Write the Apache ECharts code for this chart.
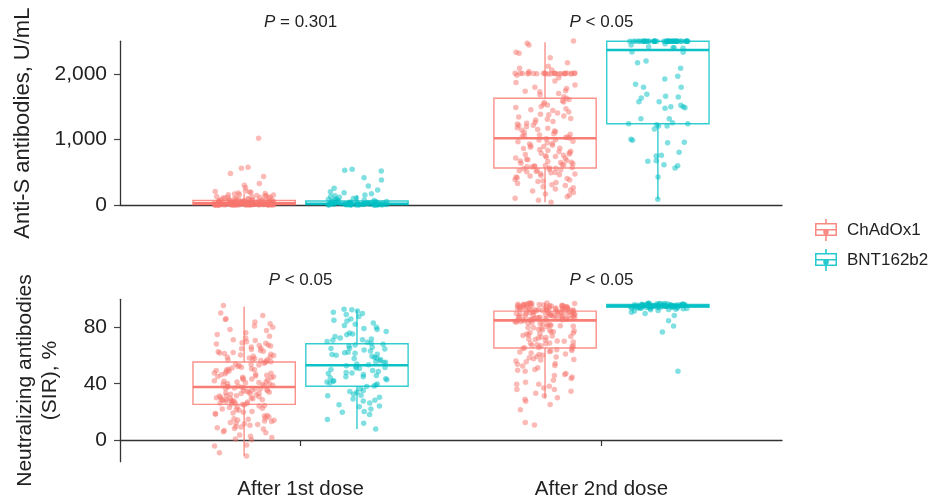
<!DOCTYPE html>
<html>
<head>
<meta charset="utf-8">
<script src="https://cdn.jsdelivr.net/npm/echarts@6/dist/echarts.min.js"></script>
<style>html,body{margin:0;padding:0;background:#fff}#c{width:938px;height:501px}</style>
</head>
<body>
<div id="c"></div>
<script>
// ---------- data ----------
const categories = ['After 1st dose', 'After 2nd dose'];
const vaccines = ['ChAdOx1', 'BNT162b2'];
const antiSTicks = [0, 1000, 2000];
const nabTicks = [0, 40, 80];
const antiSPValues = ['= 0.301', '< 0.05'];
const nabPValues = ['< 0.05', '< 0.05'];

// Box statistics [min, Q1, median, Q3, max] per dose
const antiSBoxChAdOx1 = [[0, 8, 25, 68, 170], [41, 565, 1018, 1629, 2484]];
const antiSBoxBNT = [[0, 6, 20, 62, 150], [87, 1241, 2366, 2500, 2500]];
const nabBoxChAdOx1 = [[-11.1, 25.3, 37.7, 55.4, 94.9], [29.5, 65.4, 85.0, 91.6, 97.5]];
const nabBoxBNT = [[7.8, 38.2, 53.1, 68.4, 92.5], [92.6, 94.4, 95.4, 96.3, 97.4]];

// Individual values (Anti-S antibodies, U/mL)
const antiSChAdOx1Dose1 = [1020,575,560,482,435,330,302,262,215,208,200,196,183,176,168,161,155,151,146,140,137,131,127,122,118,114,111,106,103,99,96,93,90,88,85,82,80,77,75,73,70,68,66,64,62,60,59,57,55,53,52,50,49,47,46,44,43,42,40,39,38,37,36,35,34,33,32,31,30,29,28,28,27,26,25,25,24,23,22,22,21,20,20,19,18,18,17,16,16,15,15,14,14,13,13,12,12,11,11,10,10,10,9,9,9,8,8,8,7,7,7,6,6,6,5,5,5,5,4,4,4,4,3,3,3,3,2,2,2,2,2,1,1,1,1,1,0,0,0,0,0,0,0,0];
const antiSBNTDose1 = [545,529,519,417,382,290,254,229,203,188,172,153,140,128,117,105,98,92,86,80,75,70,66,62,58,55,52,49,46,44,41,39,37,35,33,31,29,28,26,25,23,22,21,20,19,18,17,16,15,14,13,12,11,10,10,9,9,8,8,7,7,6,6,5,5,4,4,3,3,3,2,2,2,1,1,1,0,0,0,0];
const antiSChAdOx1Dose2 = [2504,2468,2443,2331,2316,2247,2173,2117,2086,2061,2038,
  2012,2008,2005,2010,2003,2015,2000,2009,2006,2011,2002,2013,2007,2004,2010,2001,2014,2008,2006,2003,2011,2009,2005,2012,2000,
  1981,1942,1893,1872,1832,1797,1778,1746,1735,1730,1704,1683,1652,1629,
  1612,1587,1574,1563,1538,1527,1502,1488,1471,1453,1442,1418,1403,1386,1377,1358,1342,1321,1308,1297,1276,1262,1248,1237,1219,1213,1196,1178,1171,1153,1142,1128,1117,1106,1088,1081,1068,1062,1047,1039,1031,1022,
  1012,998,991,974,967,951,938,932,913,906,893,882,868,861,847,833,822,812,798,791,778,771,758,752,739,731,718,712,697,691,678,671,666,653,647,636,631,618,611,604,597,591,583,579,571,566,
  561,553,547,536,531,524,513,507,496,491,478,472,461,452,441,428,417,406,391,383,366,357,342,327,311,296,278,263,244,229,212,191,168,152,127,102,74,41];
const antiSBNTDose2 = [2500,2500,2500,2500,2500,2500,2500,2500,2500,2500,2500,2500,2500,2500,2500,2500,2500,2500,2500,2500,2500,2500,2500,2500,2500,2500,2500,2500,2500,2500,2500,2500,2500,2500,2500,2500,2500,2500,2500,2500,2500,2500,2500,2500,2500,
  2460,2443,2417,2402,2400,2392,2336,2331,2199,2173,2086,1964,1923,1842,1797,1797,1690,1660,1649,1634,1578,1578,1521,1501,1501,1486,1476,1318,1318,1257,1241,1241,1226,1206,1206,1160,1003,988,957,950,804,758,748,676,667,615,600,565,427,87];

// Individual values (Neutralizing antibodies, SIR %)
const nabChAdOx1Dose1 = [95.6,90.2,88.4,86.1,85.7,83.9,82.6,81.0,80.1,77.9,76.3,73.8,72.4,71.2,70.8,69.9,69.1,68.2,67.6,66.8,66.1,65.3,64.4,63.7,63.0,62.2,61.5,60.9,60.1,59.6,59.0,58.3,57.9,57.4,56.9,56.5,56.0,55.7,78.6,74.9,68.7,64.9,61.8,58.8,57.1,67.2,62.7,60.4,
  55.2,54.6,54.1,53.4,52.9,52.2,51.8,51.1,50.6,50.0,49.4,48.9,48.3,47.7,47.1,46.6,46.0,45.5,44.9,44.3,43.8,43.3,42.7,42.2,41.8,41.2,40.7,40.2,39.8,39.3,38.9,38.5,38.1,37.8,53.7,50.3,47.4,45.1,43.0,41.5,39.6,38.3,44.6,40.9,49.7,46.3,
  37.5,37.1,36.6,36.2,35.7,35.3,34.8,34.4,33.9,33.5,33.0,32.6,32.1,31.7,31.2,30.8,30.3,29.9,29.4,29.0,28.6,28.1,27.7,27.3,26.8,26.4,26.0,25.6,25.3,36.9,35.0,33.2,31.5,29.7,28.3,27.0,25.9,34.1,30.1,27.5,32.8,36.4,28.8,
  25.0,24.1,23.2,22.0,21.1,20.3,19.2,18.4,17.5,16.3,15.6,14.8,14.0,13.1,12.4,11.6,10.5,9.7,8.8,7.9,6.8,5.2,3.5,1.8,0.2,-3.5,-4.2,-9.0,-11.3,23.6,21.7,19.8,17.0,15.1,13.6,11.0,8.2,5.9,0.8,24.6,22.6,18.9,14.3,12.0,9.3,2.6];
const nabBNTDose1 = [92.9,92.5,91.6,90.8,89.9,89.2,87.7,86.0,84.6,83.1,81.4,80.2,78.5,77.1,76.0,74.8,73.6,72.5,71.8,70.9,70.1,69.4,68.8,82.2,79.3,75.4,71.2,85.2,
  68.1,67.5,66.8,66.0,65.3,64.6,63.9,63.2,62.4,61.7,61.0,60.2,59.5,58.7,57.9,57.2,56.4,55.6,54.9,54.1,53.5,65.0,62.0,58.3,55.2,60.8,
  52.8,52.1,51.5,50.8,50.1,49.4,48.7,48.0,47.3,46.5,45.8,45.0,44.3,43.5,42.8,42.0,41.3,40.6,39.9,39.1,38.4,51.1,47.7,44.9,41.9,
  38.0,36.5,35.2,33.9,32.6,31.9,30.4,29.1,27.7,26.4,25.0,23.6,22.1,20.3,19.8,18.2,14.6,11.9,7.8,34.4,28.3,24.2,31.5];
const nabChAdOx1Dose2 = [97.6,97.3,97.1,96.9,96.8,96.6,96.4,96.3,96.1,95.9,95.8,95.6,95.5,95.3,95.2,95.0,94.9,94.7,94.6,94.4,94.3,94.1,94.0,93.8,93.7,93.5,93.4,93.2,93.1,92.9,92.8,92.6,92.5,92.3,92.2,92.0,91.9,91.8,97.0,96.0,95.4,94.8,94.2,93.6,93.0,92.4,91.7,95.1,93.3,96.5,
  91.5,91.3,91.2,91.0,90.8,90.7,90.5,90.3,90.2,90.0,89.8,89.6,89.5,89.3,89.1,88.9,88.8,88.6,88.4,88.2,88.0,87.8,87.6,87.4,87.2,87.0,86.8,86.6,86.4,86.2,86.0,85.8,85.6,85.4,85.2,85.1,90.9,89.9,88.5,87.1,86.1,91.1,89.0,87.9,86.7,85.5,90.4,88.1,86.5,85.3,
  84.8,84.3,83.9,83.4,82.8,82.3,81.7,81.2,80.6,80.0,79.3,78.7,78.0,77.4,76.7,76.0,75.3,74.6,73.9,73.2,72.5,71.8,71.1,70.4,69.7,69.0,68.4,67.7,67.0,66.4,65.8,84.0,82.0,79.7,77.0,74.2,71.5,68.8,66.9,83.1,80.9,78.3,75.7,72.9,70.2,67.4,65.6,81.5,76.4,73.5,
  65.0,64.2,63.3,62.5,61.8,61.1,60.2,59.3,59.0,57.8,56.9,55.7,54.3,53.0,52.6,51.4,50.2,48.8,47.2,45.9,43.7,42.5,41.1,39.6,39.6,38.2,37.0,35.9,35.9,34.6,33.2,31.4,30.0,29.0,27.5,25.3,21.5,12.5,10.6,63.7,60.7,58.4,56.2,49.6,46.5,44.8,62.9,57.3,53.8,64.6];
const nabBNTDose2 = [97.3,97.1,97.0,96.9,96.8,96.8,96.7,96.6,96.6,96.5,96.4,96.4,96.3,96.3,96.2,96.1,96.1,96.0,96.0,95.9,95.9,95.8,95.8,95.7,95.7,95.6,95.6,95.5,95.5,95.5,95.4,95.4,95.3,95.3,95.2,95.2,95.1,95.1,95.0,95.0,94.9,94.9,94.8,94.8,94.7,94.7,94.6,94.6,94.5,94.5,94.4,94.3,94.3,94.2,94.1,94.0,93.9,93.8,93.7,93.6,93.5,93.4,93.2,93.0,92.8,92.5,92.1,91.6,90.8,89.9,88.5,84.8,81.0,76.7,48.8,96.2,95.8,95.4,95.0,94.6,96.5,95.6,94.9,95.2,95.9];

// ---------- styling / layout ----------
const COLORS = { ChAdOx1: '#F8766D', BNT162b2: '#00BFC4' };
const DODGE = 0.1875;
const BOX_W = 0.34;
const JITTER = 0.1;
const FONT = '"Liberation Sans", Arial, sans-serif';
const TXT = '#222';

function jitter(i, seed) {
  const s = Math.sin((i + 1) * 12.9898 + seed * 78.233) * 43758.5453;
  return (s - Math.floor(s) - 0.5) * 2 * JITTER;
}

function pointsData(dose1, dose2, vIdx, seed) {
  const off = vIdx === 0 ? -DODGE : DODGE;
  const out = [];
  [dose1, dose2].forEach((arr, d) => {
    arr.forEach((v, i) => out.push([d + 1 + off + jitter(i, seed + d * 7), v]));
  });
  return out;
}
function boxData(stats, vIdx) {
  const off = vIdx === 0 ? -DODGE : DODGE;
  return stats.map((s, d) => [d + 1 + off].concat(s));
}

function boxSeries(name, stats, vIdx, grid) {
  const color = COLORS[name];
  return {
    type: 'custom', name: name, xAxisIndex: grid, yAxisIndex: grid, z: 2,
    data: boxData(stats, vIdx),
    encode: { x: 0, y: [1, 2, 3, 4, 5] },
    renderItem: function (params, api) {
      const x = api.value(0);
      const half = api.size([BOX_W, 0])[0] / 2;
      const p = [1, 2, 3, 4, 5].map(k => api.coord([x, api.value(k)]));
      const cx = p[0][0];
      const ls = { stroke: color, lineWidth: 1.4, opacity: 0.8 };
      return {
        type: 'group', children: [
          { type: 'line', shape: { x1: cx, y1: p[0][1], x2: cx, y2: p[1][1] }, style: ls },
          { type: 'line', shape: { x1: cx, y1: p[3][1], x2: cx, y2: p[4][1] }, style: ls },
          { type: 'rect', shape: { x: cx - half, y: p[3][1], width: 2 * half, height: p[1][1] - p[3][1] }, style: { fill: 'rgba(255,255,255,0)', stroke: color, lineWidth: 1.4, opacity: 0.8 } },
          { type: 'line', shape: { x1: cx - half, y1: p[2][1], x2: cx + half, y2: p[2][1] }, style: { stroke: color, lineWidth: 2.6, opacity: 0.95 } }
        ]
      };
    }
  };
}
function pointSeries(name, d1, d2, vIdx, grid, seed) {
  return {
    type: 'scatter', name: name, xAxisIndex: grid, yAxisIndex: grid, z: 3,
    symbolSize: 5.5, clip: false,
    itemStyle: { color: COLORS[name], opacity: 0.5 },
    emphasis: { disabled: true },
    data: pointsData(d1, d2, vIdx, seed)
  };
}

// legend key: box outline + median + whiskers + dot (boxplot-with-points key)
const ICON = 'path://M10.2,0L11.8,0L11.8,4L22,4L22,17L11.8,17L11.8,22L10.2,22L10.2,17L0,17L0,4L10.2,4Z' +
  'M1.5,5.5L1.5,10L20.5,10L20.5,5.5Z M1.5,11.6L1.5,15.5L20.5,15.5L20.5,11.6Z' +
  'M13.8,13A2.8,2.8,0,1,1,8.2,13A2.8,2.8,0,1,1,13.8,13Z';

const xAxisBase = {
  type: 'value', min: 0.4, max: 2.6,
  splitLine: { show: false },
  axisLine: { show: true, lineStyle: { color: '#333', width: 1.3 } }
};
const yAxisBase = {
  type: 'value',
  splitLine: { show: false },
  axisLine: { show: true, lineStyle: { color: '#333', width: 1.3 } },
  axisTick: { show: true, length: 6, lineStyle: { color: '#444', width: 1.2 } },
  axisLabel: { color: TXT, fontSize: 21, fontFamily: FONT, margin: 13 },
  nameLocation: 'middle', nameRotate: 90,
  nameTextStyle: { color: TXT, fontSize: 22, fontFamily: FONT }
};

const option = {
  animation: false,
  backgroundColor: '#fff',
  grid: [
    { left: 120, right: 156, top: 41.25, height: 163.75 },
    { left: 120, right: 156, top: 299.3, height: 162.4 }
  ],
  xAxis: [
    Object.assign({}, xAxisBase, { gridIndex: 0, axisTick: { show: false }, axisLabel: { show: false } }),
    Object.assign({}, xAxisBase, {
      gridIndex: 1,
      axisTick: { show: true, customValues: [1, 2], length: 6, lineStyle: { color: '#333', width: 1.2 } },
      axisLabel: { customValues: [1, 2], formatter: v => categories[Math.round(v) - 1], color: TXT, fontSize: 20.5, fontFamily: FONT, margin: 17 }
    })
  ],
  yAxis: [
    Object.assign({}, yAxisBase, {
      gridIndex: 0, min: 0, max: 2500, name: 'Anti-S antibodies, U/mL', nameGap: 86,
      axisTick: Object.assign({}, yAxisBase.axisTick, { customValues: antiSTicks }),
      axisLabel: Object.assign({}, yAxisBase.axisLabel, { customValues: antiSTicks, formatter: v => v.toLocaleString('en-US') })
    }),
    Object.assign({}, yAxisBase, {
      gridIndex: 1, min: -15.4, max: 100, name: 'Neutralizing antibodies\n(SIR), %', nameGap: 57,
      nameTextStyle: Object.assign({}, yAxisBase.nameTextStyle, { fontSize: 21, lineHeight: 25 }),
      axisTick: Object.assign({}, yAxisBase.axisTick, { customValues: nabTicks }),
      axisLabel: Object.assign({}, yAxisBase.axisLabel, { customValues: nabTicks })
    })
  ],
  legend: {
    orient: 'vertical', left: 810, top: 214, itemWidth: 22, itemHeight: 22, itemGap: 8,
    textStyle: { color: TXT, fontSize: 17, fontFamily: FONT, padding: [0, 0, 0, 5] },
    selectedMode: false,
    data: vaccines.map(v => ({ name: v, icon: ICON, itemStyle: { color: COLORS[v], opacity: 0.85, borderWidth: 0 } }))
  },
  series: [
    boxSeries('ChAdOx1', antiSBoxChAdOx1, 0, 0),
    boxSeries('BNT162b2', antiSBoxBNT, 1, 0),
    boxSeries('ChAdOx1', nabBoxChAdOx1, 0, 1),
    boxSeries('BNT162b2', nabBoxBNT, 1, 1),
    pointSeries('ChAdOx1', antiSChAdOx1Dose1, antiSChAdOx1Dose2, 0, 0, 1),
    pointSeries('BNT162b2', antiSBNTDose1, antiSBNTDose2, 1, 0, 3),
    pointSeries('ChAdOx1', nabChAdOx1Dose1, nabChAdOx1Dose2, 0, 1, 5),
    pointSeries('BNT162b2', nabBNTDose1, nabBNTDose2, 1, 1, 9)
  ]
};

const chart = echarts.init(document.getElementById('c'), null, { renderer: 'canvas' });
chart.setOption(option);

// P-value annotations centred over each dose group
const graphics = [];
[[antiSPValues, 0], [nabPValues, 1]].forEach(([vals, g]) => {
  vals.forEach((t, d) => {
    const x = chart.convertToPixel({ xAxisIndex: g }, d + 1);
    const yTop = chart.getModel().getComponent('grid', g).coordinateSystem.getRect().y;
    graphics.push({
      type: 'text', x: x, y: yTop - 19,
      style: {
        text: '{i|P} ' + t, align: 'center', verticalAlign: 'middle',
        fontSize: 17, fontFamily: FONT, fill: TXT,
        rich: { i: { fontStyle: 'italic', fontSize: 17, fontFamily: FONT, fill: TXT } }
      }
    });
  });
});
chart.setOption({ graphic: graphics });
</script>
</body>
</html>
